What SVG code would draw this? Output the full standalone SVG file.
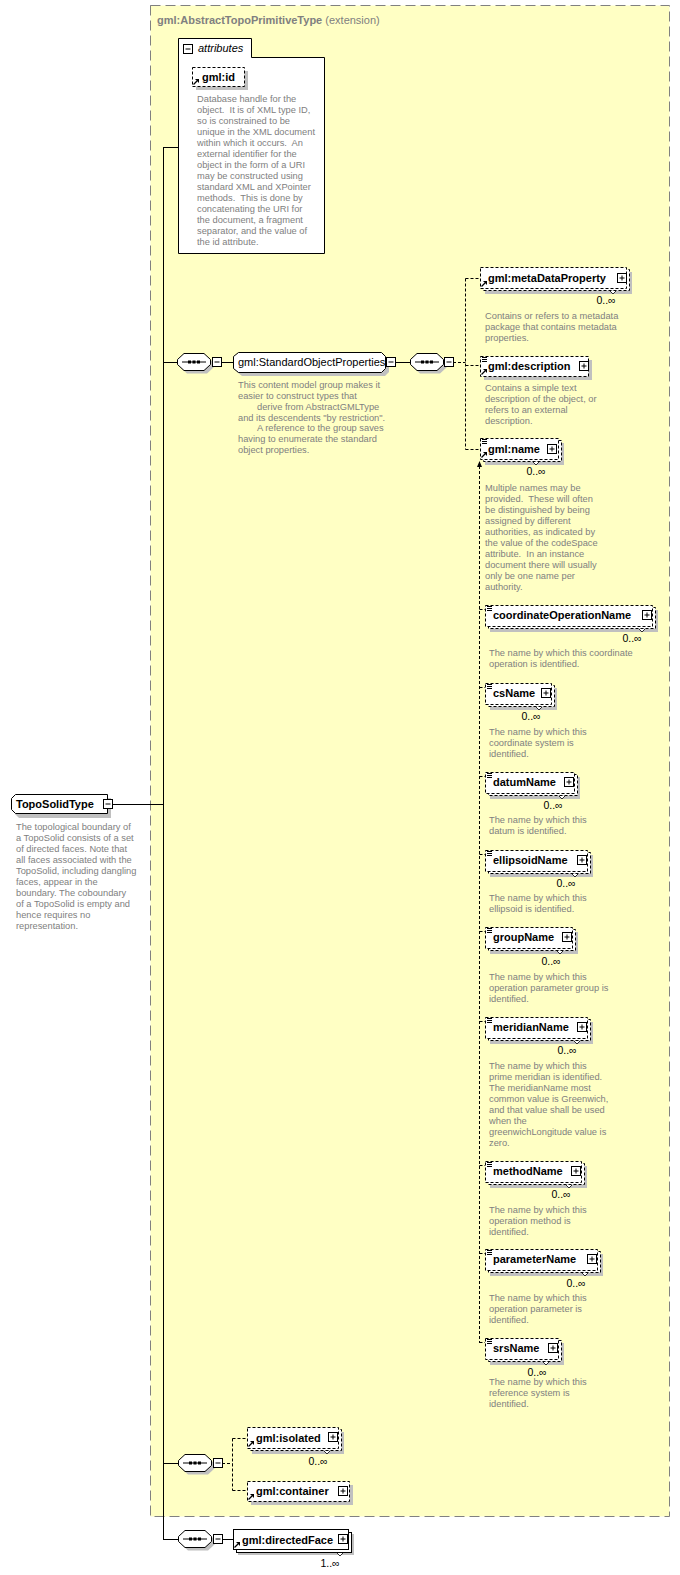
<svg xmlns="http://www.w3.org/2000/svg" xmlns:xlink="http://www.w3.org/1999/xlink" width="680" height="1575" viewBox="0 0 680 1575">
<style>
.desc{font-family:"Liberation Sans",Arial,sans-serif;font-size:9.3px;fill:#808080;white-space:pre}
.lbl{font-family:"Liberation Sans",Arial,sans-serif;font-size:11px;font-weight:bold;fill:#000}
.lbln{font-family:"Liberation Sans",Arial,sans-serif;font-size:11px;fill:#000}
.occ{font-family:"Liberation Sans",Arial,sans-serif;font-size:10.5px;fill:#000;text-anchor:middle}
.nd{fill:#fff;stroke:#000;stroke-width:1}
.opt{stroke-dasharray:3,2}
.sh{fill:#c0c0c0}
.c{stroke:#000;fill:none;stroke-width:1}
.dc{stroke-dasharray:3,2}
</style>
<defs>
<g id="plus"><rect x="0.5" y="0.5" width="9" height="9" fill="#fff" stroke="#000"/><path d="M2.5,5 H7.5 M5,2.5 V7.5" stroke="#000"/></g>
<g id="minus"><rect x="0.5" y="0.5" width="9" height="9" fill="#fff" stroke="#000"/><path d="M2.5,5 H7.5" stroke="#000"/></g>
<path id="eq" d="M0,0.5 H5 M0,2.5 H5 M0,4.5 H5" stroke="#000" stroke-width="1"/>
<g id="ref"><path d="M0.5,6.5 L4,3" stroke="#000" stroke-width="1.2"/><path d="M6,1 L6,5 L2,1 Z" fill="#000"/></g>
<g id="seq">
<path d="M10,3.5 H30 L36.5,9.5 V14.5 L30,20.5 H10 L3.5,14.5 V9.5 Z" class="sh"/>
<path d="M7,0.5 H27 L33.5,6.5 V11.5 L27,17.5 H7 L0.5,11.5 V6.5 Z" class="nd"/>
<path d="M5,9 H29" stroke="#000"/>
<rect x="11" y="7.5" width="3" height="3" fill="#000"/><rect x="15.5" y="7.5" width="3" height="3" fill="#000"/><rect x="20" y="7.5" width="3" height="3" fill="#000"/>
</g>
<path id="notch" d="M-3,0 L0,3 L3,0" fill="#fff" stroke="#000" stroke-width="0.8"/>
</defs>

<!-- extension box -->
<g id="ext">
<rect x="150.5" y="5.5" width="519" height="1511" fill="#ffffc4" stroke="#808080" stroke-dasharray="10,5"/>
<text x="157" y="24" class="lbl" style="fill:#808080">gml:AbstractTopoPrimitiveType<tspan style="font-weight:normal"> (extension)</tspan></text>
</g>

<!-- connectors -->
<g id="connectors">
<path class="c" d="M163.5,147 V1539.5"/>
<path class="c" d="M163,147.5 H178"/>
<path class="c" d="M113,804.5 H163"/>
<path class="c" d="M163,362.5 H177"/>
<path class="c" d="M221,362.5 H233"/>
<path class="c" d="M395,362.5 H410"/>
<path class="c dc" d="M453,362.5 H465.5 M465.5,278.5 V449.5 M465.5,278.5 H480 M465.5,365.5 H480 M465.5,449.5 H480"/>
<path class="c dc" d="M479.5,466 V1343"/>
<path d="M479.5,461 L477,467 L482,467 Z" fill="#000"/>
<path class="c dc" d="M479.5,609.5 H485 M479.5,687.5 H485 M479.5,776.5 H485 M479.5,854.5 H485 M479.5,931.5 H485 M479.5,1021.5 H485 M479.5,1165.5 H485 M479.5,1253.5 H485 M479.5,1342.5 H485"/>
<path class="c" d="M163,1463.5 H178"/>
<path class="c dc" d="M222,1463.5 H232.5 M232.5,1438.5 V1490.5 M232.5,1438.5 H247 M232.5,1490.5 H247"/>
<path class="c" d="M163,1539.5 H178"/>
<path class="c" d="M222,1539.5 H233"/>
</g>

<!-- TopoSolidType -->
<g id="TopoSolidType">
<path class="sh" d="M19,798 H111 V818 H19 L15,814 V802 Z"/>
<path class="nd" d="M15.5,794.5 H107.5 V813.5 H15.5 L11.5,809.5 V798.5 Z"/>
<text x="16" y="808" class="lbl">TopoSolidType</text>
<use xlink:href="#minus" x="103" y="799"/>
<text class="desc" x="16" y="830">The topological boundary of</text>
<text class="desc" x="16" y="841">a TopoSolid consists of a set</text>
<text class="desc" x="16" y="852">of directed faces. Note that</text>
<text class="desc" x="16" y="863">all faces associated with the</text>
<text class="desc" x="16" y="874">TopoSolid, including dangling</text>
<text class="desc" x="16" y="885">faces, appear in the</text>
<text class="desc" x="16" y="896">boundary. The coboundary</text>
<text class="desc" x="16" y="907">of a TopoSolid is empty and</text>
<text class="desc" x="16" y="918">hence requires no</text>
<text class="desc" x="16" y="929">representation.</text>
</g>

<!-- attributes -->
<g id="attributes">
<path class="nd" d="M178.5,253.5 V38.5 H251.5 V57.5 H324.5 V253.5 Z"/>
<use xlink:href="#minus" x="183" y="44"/>
<text x="198" y="52" style="font-family:'Liberation Sans',Arial,sans-serif;font-size:11px;font-style:italic">attributes</text>
</g>
<g id="gml-id">
<rect class="sh" x="196" y="71" width="52" height="19"/>
<rect class="nd opt" x="192.5" y="67.5" width="52" height="19"/>
<use xlink:href="#ref" x="193" y="78"/>
<text x="202" y="81" class="lbl">gml:id</text>
<text class="desc" x="197" y="102">Database handle for the</text>
<text class="desc" x="197" y="113">object.  It is of XML type ID,</text>
<text class="desc" x="197" y="124">so is constrained to be</text>
<text class="desc" x="197" y="135">unique in the XML document</text>
<text class="desc" x="197" y="146">within which it occurs.  An</text>
<text class="desc" x="197" y="157">external identifier for the</text>
<text class="desc" x="197" y="168">object in the form of a URI</text>
<text class="desc" x="197" y="179">may be constructed using</text>
<text class="desc" x="197" y="190">standard XML and XPointer</text>
<text class="desc" x="197" y="201">methods.  This is done by</text>
<text class="desc" x="197" y="212">concatenating the URI for</text>
<text class="desc" x="197" y="223">the document, a fragment</text>
<text class="desc" x="197" y="234">separator, and the value of</text>
<text class="desc" x="197" y="245">the id attribute.</text>
</g>

<!-- sequence 1 -->
<g id="seq1"><use xlink:href="#seq" x="177" y="353"/><use xlink:href="#minus" x="212" y="357"/></g>

<!-- group -->
<g id="StandardObjectProperties">
<path class="sh" d="M242,356 H385 L389,360 V372 L385,376 H242 L237,372 V360 Z"/>
<path class="nd" d="M238.5,352.5 H381.5 L385.5,356.5 V368.5 L381.5,372.5 H238.5 L233.5,368.5 V356.5 Z"/>
<text x="238" y="366" class="lbln">gml:StandardObjectProperties</text>
<use xlink:href="#minus" x="386" y="357"/>
<text class="desc" x="238" y="388">This content model group makes it</text>
<text class="desc" x="238" y="399">easier to construct types that</text>
<text class="desc" x="257" y="410">derive from AbstractGMLType</text>
<text class="desc" x="238" y="421">and its descendents "by restriction".</text>
<text class="desc" x="257" y="431">A reference to the group saves</text>
<text class="desc" x="238" y="442">having to enumerate the standard</text>
<text class="desc" x="238" y="453">object properties.</text>
</g>

<!-- sequence 2 -->
<g id="seq2"><use xlink:href="#seq" x="410" y="353"/><use xlink:href="#minus" x="444" y="357"/></g>

<!-- metaDataProperty -->
<g id="metaDataProperty">
<rect class="sh" x="485" y="272" width="147" height="22"/>
<rect class="nd opt" x="483.5" y="269.5" width="146" height="21"/>
<rect class="nd opt" x="480.5" y="267.5" width="146" height="21"/>
<use xlink:href="#ref" x="481" y="280"/>
<text x="488" y="282" class="lbl">gml:metaDataProperty</text>
<use xlink:href="#plus" x="617" y="273"/>
<use xlink:href="#notch" x="613" y="291"/>
<text class="occ" x="606" y="304">0..∞</text>
<text class="desc" x="485" y="319">Contains or refers to a metadata</text>
<text class="desc" x="485" y="330">package that contains metadata</text>
<text class="desc" x="485" y="341">properties.</text>
</g>

<!-- description -->
<g id="description">
<rect class="sh" x="484" y="360" width="108" height="20"/>
<rect class="nd opt" x="480.5" y="356.5" width="108" height="20"/>
<use xlink:href="#eq" x="482" y="357"/>
<use xlink:href="#ref" x="481" y="368"/>
<text x="488" y="370" class="lbl">gml:description</text>
<use xlink:href="#plus" x="579" y="361"/>
<text class="desc" x="485" y="391">Contains a simple text</text>
<text class="desc" x="485" y="402">description of the object, or</text>
<text class="desc" x="485" y="413">refers to an external</text>
<text class="desc" x="485" y="424">description.</text>
</g>

<!-- name -->
<g id="name">
<rect class="sh" x="485" y="443" width="79" height="22"/>
<rect class="nd opt" x="483.5" y="440.5" width="78" height="21"/>
<rect class="nd opt" x="480.5" y="438.5" width="78" height="21"/>
<use xlink:href="#eq" x="482" y="439"/>
<use xlink:href="#ref" x="481" y="451"/>
<text x="488" y="453" class="lbl">gml:name</text>
<use xlink:href="#plus" x="547" y="444"/>
<use xlink:href="#notch" x="536" y="462"/>
<text class="occ" x="536" y="475">0..∞</text>
<text class="desc" x="485" y="491">Multiple names may be</text>
<text class="desc" x="485" y="502">provided.  These will often</text>
<text class="desc" x="485" y="513">be distinguished by being</text>
<text class="desc" x="485" y="524">assigned by different</text>
<text class="desc" x="485" y="535">authorities, as indicated by</text>
<text class="desc" x="485" y="546">the value of the codeSpace</text>
<text class="desc" x="485" y="557">attribute.  In an instance</text>
<text class="desc" x="485" y="568">document there will usually</text>
<text class="desc" x="485" y="579">only be one name per</text>
<text class="desc" x="485" y="590">authority.</text>
</g>

<!-- substitution members -->
<g id="coordinateOperationName">
<rect class="sh" x="490" y="610" width="168" height="22"/>
<rect class="nd opt" x="488.5" y="607.5" width="167" height="21"/>
<rect class="nd opt" x="485.5" y="605.5" width="167" height="21"/>
<use xlink:href="#eq" x="487" y="606"/>
<text x="493" y="619" class="lbl">coordinateOperationName</text>
<use xlink:href="#plus" x="642" y="610"/>
<use xlink:href="#notch" x="642" y="629"/>
<text class="occ" x="632" y="642">0..∞</text>
<text class="desc" x="489" y="656">The name by which this coordinate</text>
<text class="desc" x="489" y="667">operation is identified.</text>
</g>

<g id="csName">
<rect class="sh" x="490" y="688" width="67" height="22"/>
<rect class="nd opt" x="488.5" y="685.5" width="66" height="21"/>
<rect class="nd opt" x="485.5" y="683.5" width="66" height="21"/>
<use xlink:href="#eq" x="487" y="684"/>
<text x="493" y="697" class="lbl">csName</text>
<use xlink:href="#plus" x="541" y="688"/>
<use xlink:href="#notch" x="539" y="707"/>
<text class="occ" x="531" y="720">0..∞</text>
<text class="desc" x="489" y="735">The name by which this</text>
<text class="desc" x="489" y="746">coordinate system is</text>
<text class="desc" x="489" y="757">identified.</text>
</g>

<g id="datumName">
<rect class="sh" x="490" y="777" width="90" height="22"/>
<rect class="nd opt" x="488.5" y="774.5" width="89" height="21"/>
<rect class="nd opt" x="485.5" y="772.5" width="89" height="21"/>
<use xlink:href="#eq" x="487" y="773"/>
<text x="493" y="786" class="lbl">datumName</text>
<use xlink:href="#plus" x="564" y="777"/>
<use xlink:href="#notch" x="562" y="796"/>
<text class="occ" x="553" y="809">0..∞</text>
<text class="desc" x="489" y="823">The name by which this</text>
<text class="desc" x="489" y="834">datum is identified.</text>
</g>

<g id="ellipsoidName">
<rect class="sh" x="490" y="855" width="103" height="22"/>
<rect class="nd opt" x="488.5" y="852.5" width="102" height="21"/>
<rect class="nd opt" x="485.5" y="850.5" width="102" height="21"/>
<use xlink:href="#eq" x="487" y="851"/>
<text x="493" y="864" class="lbl">ellipsoidName</text>
<use xlink:href="#plus" x="577" y="855"/>
<use xlink:href="#notch" x="575" y="874"/>
<text class="occ" x="566" y="887">0..∞</text>
<text class="desc" x="489" y="901">The name by which this</text>
<text class="desc" x="489" y="912">ellipsoid is identified.</text>
</g>

<g id="groupName">
<rect class="sh" x="490" y="932" width="88" height="22"/>
<rect class="nd opt" x="488.5" y="929.5" width="87" height="21"/>
<rect class="nd opt" x="485.5" y="927.5" width="87" height="21"/>
<use xlink:href="#eq" x="487" y="928"/>
<text x="493" y="941" class="lbl">groupName</text>
<use xlink:href="#plus" x="562" y="932"/>
<use xlink:href="#notch" x="560" y="951"/>
<text class="occ" x="551" y="965">0..∞</text>
<text class="desc" x="489" y="980">The name by which this</text>
<text class="desc" x="489" y="991">operation parameter group is</text>
<text class="desc" x="489" y="1002">identified.</text>
</g>

<g id="meridianName">
<rect class="sh" x="490" y="1022" width="103" height="22"/>
<rect class="nd opt" x="488.5" y="1019.5" width="102" height="21"/>
<rect class="nd opt" x="485.5" y="1017.5" width="102" height="21"/>
<use xlink:href="#eq" x="487" y="1018"/>
<text x="493" y="1031" class="lbl">meridianName</text>
<use xlink:href="#plus" x="577" y="1022"/>
<use xlink:href="#notch" x="577" y="1041"/>
<text class="occ" x="567" y="1054">0..∞</text>
<text class="desc" x="489" y="1069">The name by which this</text>
<text class="desc" x="489" y="1080">prime meridian is identified.</text>
<text class="desc" x="489" y="1091">The meridianName most</text>
<text class="desc" x="489" y="1102">common value is Greenwich,</text>
<text class="desc" x="489" y="1113">and that value shall be used</text>
<text class="desc" x="489" y="1124">when the</text>
<text class="desc" x="489" y="1135">greenwichLongitude value is</text>
<text class="desc" x="489" y="1146">zero.</text>
</g>

<g id="methodName">
<rect class="sh" x="490" y="1166" width="97" height="22"/>
<rect class="nd opt" x="488.5" y="1163.5" width="96" height="21"/>
<rect class="nd opt" x="485.5" y="1161.5" width="96" height="21"/>
<use xlink:href="#eq" x="487" y="1162"/>
<text x="493" y="1175" class="lbl">methodName</text>
<use xlink:href="#plus" x="571" y="1166"/>
<use xlink:href="#notch" x="569" y="1185"/>
<text class="occ" x="561" y="1198">0..∞</text>
<text class="desc" x="489" y="1213">The name by which this</text>
<text class="desc" x="489" y="1224">operation method is</text>
<text class="desc" x="489" y="1235">identified.</text>
</g>

<g id="parameterName">
<rect class="sh" x="490" y="1254" width="113" height="22"/>
<rect class="nd opt" x="488.5" y="1251.5" width="112" height="21"/>
<rect class="nd opt" x="485.5" y="1249.5" width="112" height="21"/>
<use xlink:href="#eq" x="487" y="1250"/>
<text x="493" y="1263" class="lbl">parameterName</text>
<use xlink:href="#plus" x="587" y="1254"/>
<use xlink:href="#notch" x="585" y="1273"/>
<text class="occ" x="576" y="1287">0..∞</text>
<text class="desc" x="489" y="1301">The name by which this</text>
<text class="desc" x="489" y="1312">operation parameter is</text>
<text class="desc" x="489" y="1323">identified.</text>
</g>

<g id="srsName">
<rect class="sh" x="490" y="1343" width="74" height="22"/>
<rect class="nd opt" x="488.5" y="1340.5" width="73" height="21"/>
<rect class="nd opt" x="485.5" y="1338.5" width="73" height="21"/>
<use xlink:href="#eq" x="487" y="1339"/>
<text x="493" y="1352" class="lbl">srsName</text>
<use xlink:href="#plus" x="548" y="1343"/>
<use xlink:href="#notch" x="546" y="1362"/>
<text class="occ" x="537" y="1376">0..∞</text>
<text class="desc" x="489" y="1385">The name by which this</text>
<text class="desc" x="489" y="1396">reference system is</text>
<text class="desc" x="489" y="1407">identified.</text>
</g>

<!-- sequence 3 -->
<g id="seq3"><use xlink:href="#seq" x="178" y="1454"/><use xlink:href="#minus" x="213" y="1458"/></g>

<g id="isolated">
<rect class="sh" x="252" y="1432" width="92" height="22"/>
<rect class="nd opt" x="250.5" y="1429.5" width="91" height="21"/>
<rect class="nd opt" x="247.5" y="1427.5" width="91" height="21"/>
<use xlink:href="#ref" x="248" y="1440"/>
<text x="256" y="1442" class="lbl">gml:isolated</text>
<use xlink:href="#plus" x="328" y="1432"/>
<use xlink:href="#notch" x="327" y="1451"/>
<text class="occ" x="318" y="1465">0..∞</text>
</g>

<g id="container">
<rect class="sh" x="251" y="1485" width="102" height="20"/>
<rect class="nd opt" x="247.5" y="1481.5" width="102" height="20"/>
<use xlink:href="#ref" x="248" y="1493"/>
<text x="256" y="1495" class="lbl">gml:container</text>
<use xlink:href="#plus" x="338" y="1486"/>
</g>

<!-- sequence 4 -->
<g id="seq4"><use xlink:href="#seq" x="178" y="1530"/><use xlink:href="#minus" x="213" y="1534"/></g>

<g id="directedFace">
<rect class="sh" x="238" y="1534" width="116" height="21"/>
<rect class="nd" x="236.5" y="1532.5" width="115" height="20"/>
<rect class="nd" x="233.5" y="1529.5" width="115" height="20"/>
<use xlink:href="#ref" x="234" y="1541"/>
<text x="242" y="1544" class="lbl">gml:directedFace</text>
<use xlink:href="#plus" x="338" y="1534"/>
<use xlink:href="#notch" x="340" y="1553"/>
<text class="occ" x="330" y="1567">1..∞</text>
</g>
</svg>
